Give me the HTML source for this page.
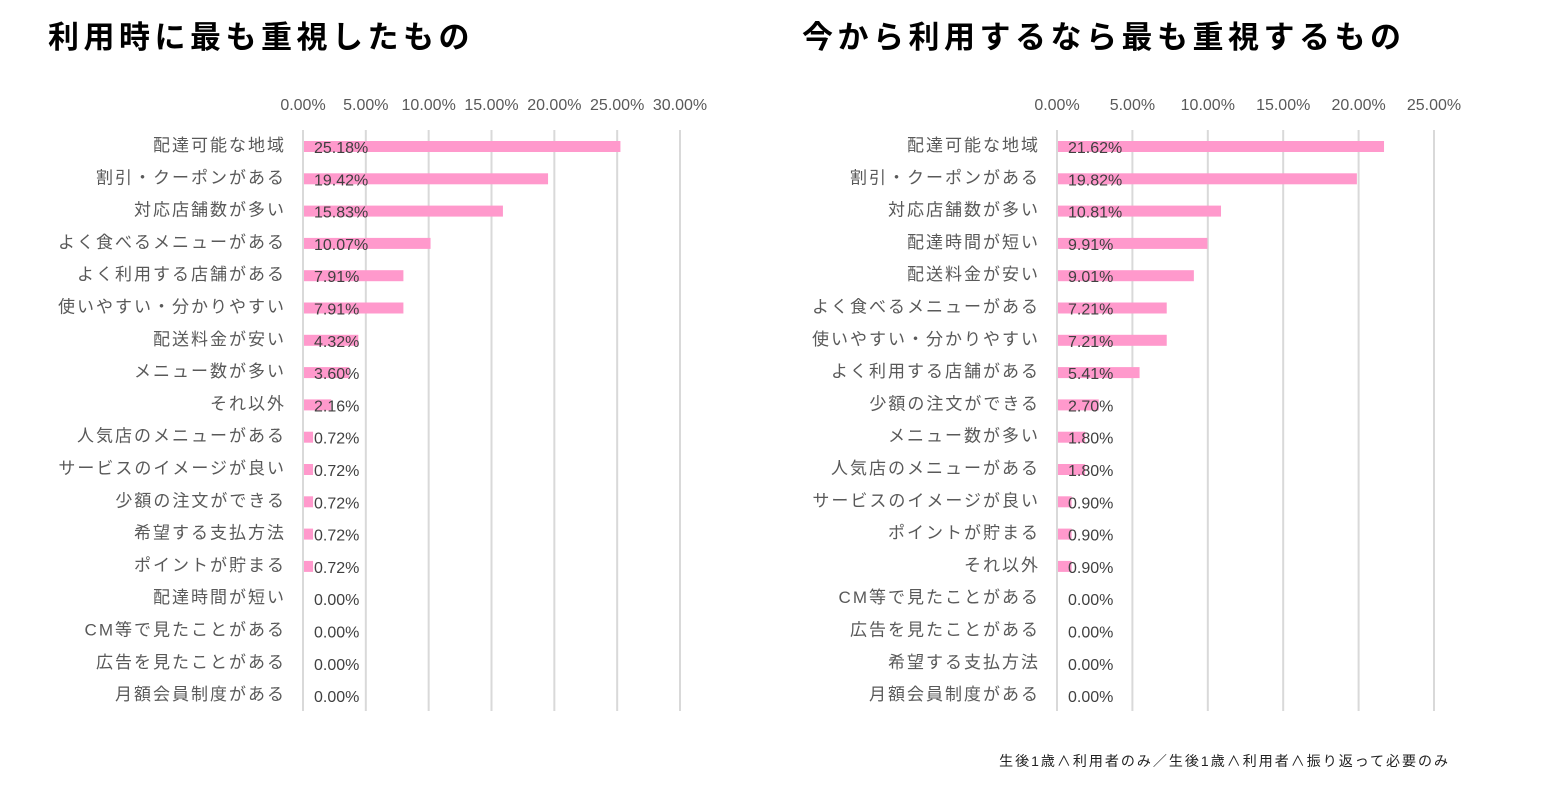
<!DOCTYPE html>
<html><head><meta charset="utf-8"><style>
body{margin:0;background:#fff}
svg{display:block}
text{font-family:"Liberation Sans","Noto Sans CJK JP",sans-serif}
</style></head><body>
<svg width="1542" height="788" xmlns="http://www.w3.org/2000/svg">
<text x="48" y="48" font-size="31" font-weight="bold" fill="#000" letter-spacing="4.5">利用時に最も重視したもの</text>
<text x="802" y="48" font-size="31" font-weight="bold" fill="#000" letter-spacing="4.5">今から利用するなら最も重視するもの</text>
<g id="L"></g><g id="R"></g>
<text x="1450" y="766" font-size="14" fill="#222" text-anchor="end" letter-spacing="2">生後1歳∧利用者のみ／生後1歳∧利用者∧振り返って必要のみ</text>
</svg>
<script>
const NS="http://www.w3.org/2000/svg";
function el(p,t,a,txt){const e=document.createElementNS(NS,t);for(const k in a)e.setAttribute(k,a[k]);if(txt!=null)e.textContent=txt;p.appendChild(e);return e;}
function chart(g,x0,x1,max,lblX,data){
 const s=(x1-x0)/max;
 for(let v=0;v<=max;v+=5){const x=x0+v*s;
  el(g,"line",{x1:x,x2:x,y1:130,y2:711,stroke:"#d9d9d9","stroke-width":2});
  el(g,"text",{x:x,y:110,"font-size":16,fill:"#595959","text-anchor":"middle"},v.toFixed(2)+"%");}
 data.forEach((d,i)=>{const y=146+i*32.3;
  el(g,"rect",{x:x0+1,y:y-5,width:Math.max(0,d[1]*s),height:11,fill:"#ff99cc"});
  el(g,"text",{x:lblX,y:y+5,"font-size":17,fill:"#595959","text-anchor":"end","letter-spacing":2},d[0]);
  el(g,"text",{x:x0+11,y:y+7,"font-size":16,fill:"#404040"},d[1].toFixed(2)+"%");});
}
chart(document.getElementById("L"),303,680,30,286,[["配達可能な地域",25.18],["割引・クーポンがある",19.42],["対応店舗数が多い",15.83],["よく食べるメニューがある",10.07],["よく利用する店舗がある",7.91],["使いやすい・分かりやすい",7.91],["配送料金が安い",4.32],["メニュー数が多い",3.60],["それ以外",2.16],["人気店のメニューがある",0.72],["サービスのイメージが良い",0.72],["少額の注文ができる",0.72],["希望する支払方法",0.72],["ポイントが貯まる",0.72],["配達時間が短い",0],["CM等で見たことがある",0],["広告を見たことがある",0],["月額会員制度がある",0]]);
chart(document.getElementById("R"),1057,1434,25,1040,[["配達可能な地域",21.62],["割引・クーポンがある",19.82],["対応店舗数が多い",10.81],["配達時間が短い",9.91],["配送料金が安い",9.01],["よく食べるメニューがある",7.21],["使いやすい・分かりやすい",7.21],["よく利用する店舗がある",5.41],["少額の注文ができる",2.70],["メニュー数が多い",1.80],["人気店のメニューがある",1.80],["サービスのイメージが良い",0.90],["ポイントが貯まる",0.90],["それ以外",0.90],["CM等で見たことがある",0],["広告を見たことがある",0],["希望する支払方法",0],["月額会員制度がある",0]]);
</script>
</body></html>
